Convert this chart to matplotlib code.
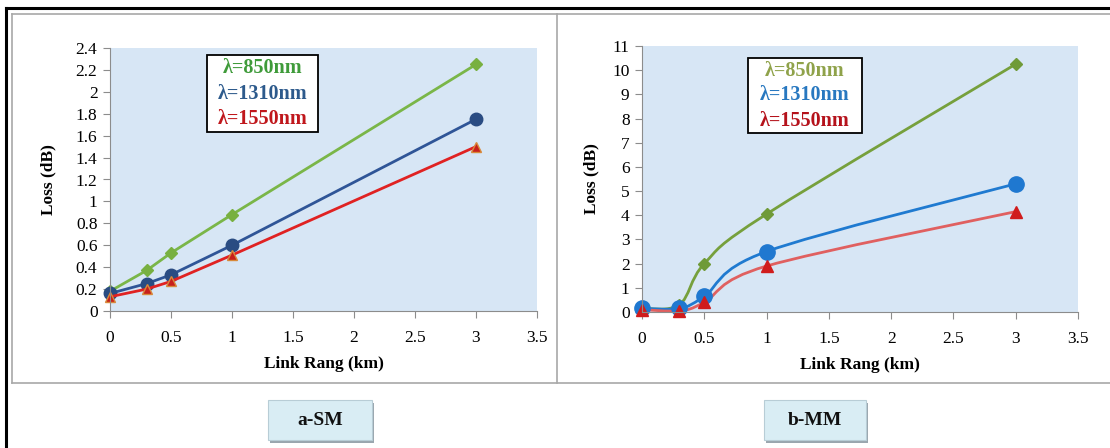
import matplotlib
matplotlib.use("Agg")
import matplotlib.pyplot as plt
from matplotlib.path import Path
from matplotlib.patches import PathPatch, Rectangle
from matplotlib.lines import Line2D
from matplotlib.ticker import MultipleLocator, FormatStrFormatter
import numpy as np

plt.rcParams['font.family'] = ['Liberation Serif', 'DejaVu Serif']

# link range (km)
x_km = [0, 0.3, 0.5, 1, 3]

# a-SM loss (dB)
sm_850 = [0.18, 0.37, 0.53, 0.88, 2.25]
sm_1310 = [0.16, 0.25, 0.33, 0.60, 1.75]
sm_1550 = [0.13, 0.20, 0.27, 0.51, 1.50]

# b-MM loss (dB)
mm_850 = [0.15, 0.30, 2.0, 4.05, 10.25]
mm_1310 = [0.15, 0.15, 0.65, 2.5, 5.3]
mm_1550 = [0.10, 0.05, 0.40, 1.9, 4.15]

labels = ["\u03bb=850nm", "\u03bb=1310nm", "\u03bb=1550nm"]
panel_names = ["a-SM", "b-MM"]


def smooth_path(xs, ys):
    # catmull-rom style bezier through the points (like excel "smoothed line")
    pts = list(zip(xs, ys))
    verts = [pts[0]]
    codes = [Path.MOVETO]
    n = len(pts)
    for i in range(n - 1):
        p0 = pts[i - 1] if i > 0 else pts[i]
        p1 = pts[i]
        p2 = pts[i + 1]
        p3 = pts[i + 2] if i + 2 < n else pts[i + 1]
        c1 = (p1[0] + (p2[0] - p0[0]) / 6, p1[1] + (p2[1] - p0[1]) / 6)
        c2 = (p2[0] - (p3[0] - p1[0]) / 6, p2[1] - (p3[1] - p1[1]) / 6)
        verts += [c1, c2, p2]
        codes += [Path.CURVE4] * 3
    return Path(verts, codes)


fig = plt.figure(figsize=(11.1, 4.48), dpi=100)
W, H = 1110.0, 448.0


def fx(px):
    return px / W


def fy(py):
    return 1 - py / H


# frame lines
fig.add_artist(Line2D([fx(6), fx(6)], [0, fy(8)], color='black', lw=2.2))
fig.add_artist(Line2D([fx(6), 1], [fy(8), fy(8)], color='black', lw=2.2))
fig.add_artist(Line2D([fx(12), 1], [fy(14), fy(14)], color='#a8a8a8', lw=1.2))
fig.add_artist(Line2D([fx(12), fx(12)], [fy(14), fy(383)], color='#a8a8a8', lw=1.2))
fig.add_artist(Line2D([fx(12), 1], [fy(383), fy(383)], color='#a8a8a8', lw=1.2))
fig.add_artist(Line2D([fx(557), fx(557)], [fy(14), fy(383)], color='#a8a8a8', lw=1.2))

ax1 = fig.add_axes([fx(110), fy(311), (537 - 110) / W, (311 - 48) / H])
ax2 = fig.add_axes([fx(642), fy(312), (1078 - 642) / W, (312 - 46) / H])

for ax in (ax1, ax2):
    ax.set_facecolor('#d7e6f5')
    ax.spines['top'].set_visible(False)
    ax.spines['right'].set_visible(False)
    ax.spines['left'].set_color('#8c8c8c')
    ax.spines['bottom'].set_color('#8c8c8c')
    ax.tick_params(direction='out', length=5, color='#8c8c8c', labelsize=12.5)
    ax.tick_params(axis='x', pad=9)
    ax.tick_params(axis='y', pad=4)
    ax.set_xlim(0, 3.5)
    ax.xaxis.set_major_locator(MultipleLocator(0.5))
    ax.xaxis.set_major_formatter(FormatStrFormatter('%g'))
    ax.yaxis.set_major_formatter(FormatStrFormatter('%g'))
    ax.set_xlabel("Link Rang (km)", fontsize=12.5, fontweight='bold', labelpad=7)

ax1.set_ylabel("Loss (dB)", fontsize=12.5, fontweight='bold', labelpad=14)
ax2.set_ylabel("Loss (dB)", fontsize=12.5, fontweight='bold', labelpad=9)

# a-SM
ax1.set_ylim(0, 2.4)
ax1.yaxis.set_major_locator(MultipleLocator(0.2))
ax1.plot(x_km, sm_850, color='#7ab648', lw=2, marker='D', ms=6.5, mfc='#78b040', mec='#78b040', clip_on=False)
ax1.plot(x_km, sm_1310, color='#2f5597', lw=2, marker='o', ms=9, mfc='#2a4c82', mec='#2a4c82', clip_on=False)
ax1.plot(x_km, sm_1550, color='#e02222', lw=2, marker='^', ms=7.5, mfc='#c8201c', mec='#d88a3a', clip_on=False)

# b-MM (smoothed lines)
ax2.set_ylim(0, 11)
ax2.yaxis.set_major_locator(MultipleLocator(1))
mm_styles = [(mm_850, '#76a03c', 'D', 6.5, '#6f9a38'),
             (mm_1310, '#1f7ad0', 'o', 11, '#1f78d0'),
             (mm_1550, '#e06060', '^', 8.5, '#d01c1c')]
for ys, col, mk, ms, mcol in mm_styles:
    ax2.add_patch(PathPatch(smooth_path(x_km, ys), facecolor='none', edgecolor=col, lw=2))
    ax2.plot(x_km, ys, linestyle='none', marker=mk, ms=ms, mfc=mcol, mec=mcol, clip_on=False)

# legend text boxes
legend_cols = [['#3f9b3a', '#2d5a8c', '#c0171c'],
               ['#8fa24a', '#2878c0', '#b5121b']]
boxes = [(207, 55, 318, 132), (748, 58, 862, 133)]
for (x0, y0, x1, y1), cols in zip(boxes, legend_cols):
    fig.add_artist(Rectangle((fx(x0), fy(y1)), (x1 - x0) / W, (y1 - y0) / H,
                             transform=fig.transFigure, facecolor='white', edgecolor='black', lw=1.3))
    xc = (x0 + x1) / 2
    step = (y1 - y0) / 3
    for i, (lab, c) in enumerate(zip(labels, cols)):
        fig.text(fx(xc), fy(y0 + step * (i + 0.5)), lab, color=c, fontsize=14.5,
                 fontweight='bold', ha='center', va='center')

# caption boxes under each panel
cap_boxes = [(268, 400, 372, 440), (764, 400, 866, 440)]
for (x0, y0, x1, y1), name in zip(cap_boxes, panel_names):
    fig.add_artist(Rectangle((fx(x0 + 2), fy(y1 + 3)), (x1 - x0) / W, (y1 - y0) / H,
                             transform=fig.transFigure, facecolor='#9aa6ae', edgecolor='none'))
    fig.add_artist(Rectangle((fx(x0), fy(y1)), (x1 - x0) / W, (y1 - y0) / H,
                             transform=fig.transFigure, facecolor='#d9edf4', edgecolor='#b8cdd6', lw=0.8))
    fig.text(fx((x0 + x1) / 2), fy((y0 + y1) / 2), name, fontsize=14, fontweight='bold',
             ha='center', va='center', color='#111111')

fig.savefig("out.png", dpi=100)
